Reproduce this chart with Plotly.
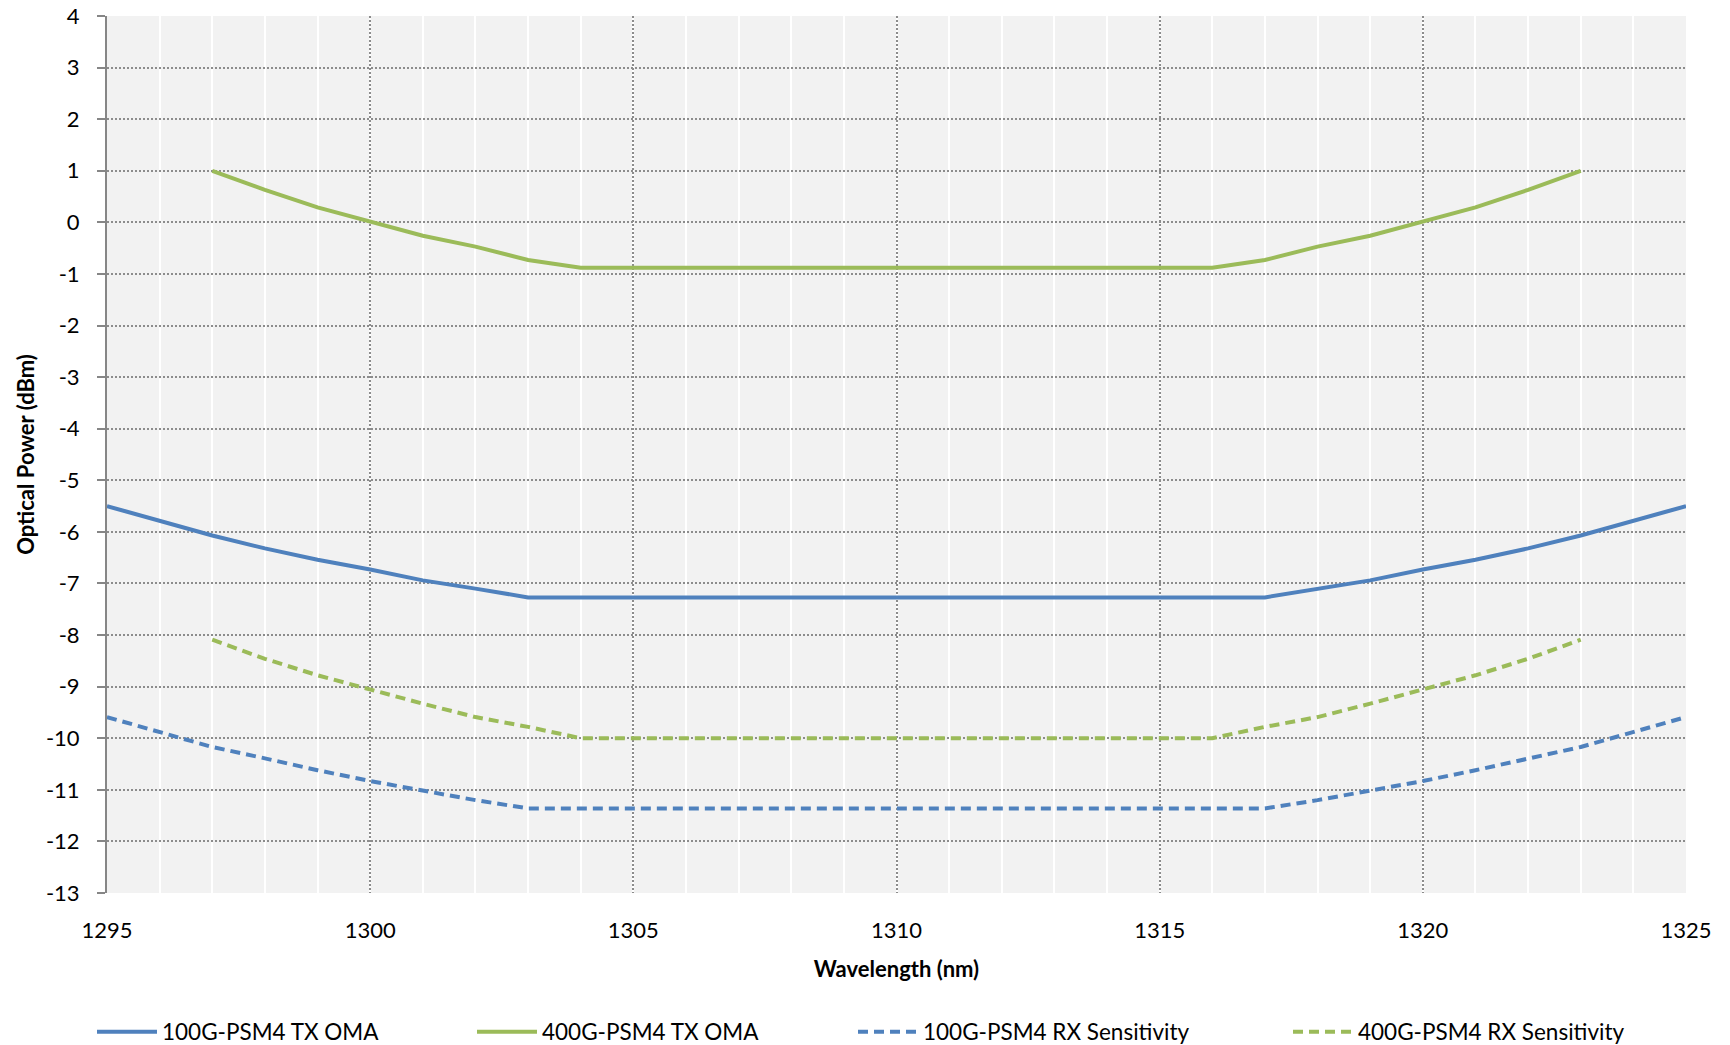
import plotly.graph_objects as go

# Wavelength (nm) for each series
x_tx100 = [1295, 1297, 1298, 1299, 1300, 1301, 1302, 1303, 1317, 1318, 1319, 1320, 1321, 1322, 1323, 1325]
y_tx100 = [-5.50, -6.07, -6.32, -6.54, -6.73, -6.94, -7.10, -7.27, -7.27, -7.10, -6.94, -6.73, -6.54, -6.32, -6.07, -5.50]

x_tx400 = [1297, 1298, 1299, 1300, 1301, 1302, 1303, 1304, 1316, 1317, 1318, 1319, 1320, 1321, 1322, 1323]
y_tx400 = [1.00, 0.63, 0.29, 0.01, -0.26, -0.47, -0.73, -0.88, -0.88, -0.73, -0.47, -0.26, 0.01, 0.29, 0.63, 1.00]

x_rx100 = [1295, 1297, 1298, 1299, 1300, 1301, 1302, 1303, 1317, 1318, 1319, 1320, 1321, 1322, 1323, 1325]
y_rx100 = [-9.59, -10.17, -10.39, -10.62, -10.83, -11.02, -11.20, -11.36, -11.36, -11.20, -11.02, -10.83, -10.62, -10.39, -10.17, -9.59]

x_rx400 = [1297, 1298, 1299, 1300, 1301, 1302, 1303, 1304, 1316, 1317, 1318, 1319, 1320, 1321, 1322, 1323]
y_rx400 = [-8.09, -8.46, -8.78, -9.06, -9.33, -9.59, -9.78, -10.00, -10.00, -9.78, -9.59, -9.33, -9.06, -8.78, -8.46, -8.09]

names = ["100G-PSM4 TX OMA", "400G-PSM4 TX OMA", "100G-PSM4 RX Sensitivity", "400G-PSM4 RX Sensitivity"]

y_tickvals = [4, 3, 2, 1, 0, -1, -2, -3, -4, -5, -6, -7, -8, -9, -10, -11, -12, -13]
y_ticktext = ["4", "3", "2", "1", "0", "-1", "-2", "-3", "-4", "-5", "-6", "-7", "-8", "-9", "-10", "-11", "-12", "-13"]
x_tickvals = [1295, 1300, 1305, 1310, 1315, 1320, 1325]
x_ticktext = ["1295", "1300", "1305", "1310", "1315", "1320", "1325"]

BLUE = "#4F81BD"
GREEN = "#9BBB59"
FONT = "Lato"

fig = go.Figure()
series = [
    (x_tx100, y_tx100, BLUE, "solid", "legend"),
    (x_tx400, y_tx400, GREEN, "solid", "legend2"),
    (x_rx100, y_rx100, BLUE, "10px,6px", "legend3"),
    (x_rx400, y_rx400, GREEN, "10px,6px", "legend4"),
]
for (xs, ys, col, dash, lg), nm in zip(series, names):
    fig.add_trace(go.Scatter(x=xs, y=ys, mode="lines", name=nm, legend=lg,
                             line=dict(color=col, width=4, dash=dash)))

L, R, T, B = 107, 44, 16, 152
W, H = 1730, 1045
pw = W - L - R
ph = H - T - B

def lx(px):
    return (px - L) / pw

def ly(py):
    return (H - B - py) / ph

leg_common = dict(orientation="h", yanchor="middle", y=ly(1032), xanchor="left",
                  font=dict(family=FONT, size=22.5, color="#000000"),
                  bgcolor="rgba(0,0,0,0)", itemwidth=60)

fig.update_layout(
    width=W, height=H,
    margin=dict(l=L, r=R, t=T, b=B, autoexpand=False),
    paper_bgcolor="white",
    plot_bgcolor="#F2F2F2",
    font=dict(family=FONT, size=22, color="#000000"),
    showlegend=True,
    legend=dict(leg_common, x=lx(92)),
    legend2=dict(leg_common, x=lx(472)),
    legend3=dict(leg_common, x=lx(853)),
    legend4=dict(leg_common, x=lx(1288)),
    xaxis=dict(
        range=[1295, 1325], tickmode="array", tickvals=x_tickvals, ticktext=x_ticktext,
        showgrid=True, gridcolor="#8C8C8C", gridwidth=2, griddash="2px,2px",
        minor=dict(dtick=1, tick0=1295, showgrid=True, gridcolor="#FFFFFF", gridwidth=2, griddash="solid"),
        zeroline=False, showline=False, ticks="",
        ticklabelstandoff=22,
        tickfont=dict(family=FONT, size=22),
        title=dict(text="<b>Wavelength (nm)</b>", font=dict(family=FONT, size=22), standoff=19),
    ),
    yaxis=dict(
        range=[-13, 4], tickmode="array", tickvals=y_tickvals, ticktext=y_ticktext,
        showgrid=True, gridcolor="#8C8C8C", gridwidth=2, griddash="2px,2px",
        zeroline=False, showline=True, linecolor="#868686", linewidth=2,
        ticks="outside", ticklen=8, tickwidth=2, tickcolor="#868686",
        ticklabelstandoff=13,
        tickfont=dict(family=FONT, size=22),
        title=dict(text="<b>Optical Power (dBm)</b>", font=dict(family=FONT, size=22), standoff=5),
    ),
)

fig.write_html("out.html", config={"displayModeBar": False},
               post_script="document.body.style.margin='0';")
